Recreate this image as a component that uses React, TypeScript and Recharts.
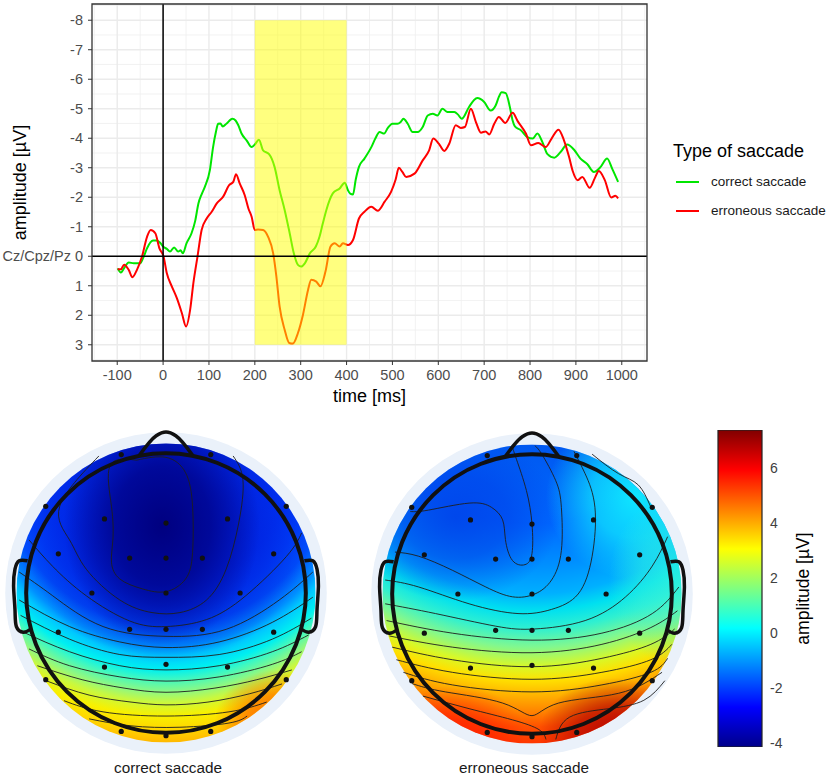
import React from 'react';
import {
  ComposedChart, Line, XAxis, YAxis, CartesianGrid, ReferenceArea, ReferenceLine,
  Legend, Scatter, Bar, Label,
} from 'recharts';

const FONT = '"Liberation Sans", Arial, Helvetica, sans-serif';

// ---------- ERP chart data ----------
const timeTicks = [-100, 0, 100, 200, 300, 400, 500, 600, 700, 800, 900, 1000];
const timeMinorTicks = [-150, -50, 50, 150, 250, 350, 450, 550, 650, 750, 850, 950, 1050];
const ampTicks = [-8, -7, -6, -5, -4, -3, -2, -1, 0, 1, 2, 3];
const ampMinorTicks = [-8.5, -7.5, -6.5, -5.5, -4.5, -3.5, -2.5, -1.5, -0.5, 0.5, 1.5, 2.5, 3.5];
const seriesNames = ['correct saccade', 'erroneous saccade'];
const seriesColors = ['#00E600', '#FF0000'];
const windowStart = 200;
const windowEnd = 400;

const correctSaccade: [number, number][] = [
  [-99, 0.41], [-92, 0.55], [-85, 0.40], [-75, 0.21], [-64, 0.24], [-50, 0.24], [-42, 0.0], [-35, -0.27],
  [-22, -0.53], [-14, -0.53], [-6, -0.45], [0, -0.33], [8, -0.25], [15, -0.16], [24, -0.30], [33, -0.16],
  [38, -0.2], [43, -0.1], [51, -0.44], [62, -0.78], [70, -1.2], [77, -1.79], [84, -2.1], [91, -2.35],
  [102, -2.92], [109, -3.70], [115, -4.2], [120, -4.49], [125, -4.5], [130, -4.40], [138, -4.49], [151, -4.66],
  [158, -4.6], [164, -4.44], [171, -4.16], [182, -3.93], [193, -3.70], [200, -3.79], [209, -3.95], [218, -3.59],
  [231, -3.46], [237, -3.3], [243, -3.03], [254, -2.24], [265, -1.57], [276, -0.78], [285, -0.10], [294, 0.29],
  [301, 0.35], [309, 0.24], [320, -0.1], [333, -0.33], [341, -0.66], [348, -1.1], [356, -1.57], [363, -1.9],
  [370, -2.13], [385, -2.30], [396, -2.49], [403, -2.24], [408, -2.12], [414, -2.09], [420, -2.6], [427, -3.03],
  [439, -3.31], [454, -3.70], [463, -4.0], [472, -4.21], [482, -4.16], [490, -4.35], [500, -4.49], [511, -4.49],
  [518, -4.55], [524, -4.66], [533, -4.5], [544, -4.21], [555, -4.21], [566, -4.38], [577, -4.77], [588, -4.83],
  [598, -4.77], [609, -5.0], [620, -4.89], [635, -4.89], [643, -4.8], [651, -4.66], [667, -5.06], [678, -5.3],
  [685, -5.36], [700, -5.23], [714, -4.94], [725, -5.11], [732, -5.4], [738, -5.56], [747, -5.53], [756, -5.06],
  [762, -4.6], [767, -4.40], [780, -4.27], [794, -4.04], [806, -3.99], [816, -4.16], [827, -3.87], [838, -3.46],
  [853, -3.34], [867, -3.54], [881, -3.79], [896, -3.61], [910, -3.31], [925, -3.12], [939, -2.86], [954, -3.03],
  [968, -3.31], [979, -2.97], [992, -2.52],
];

const erroneousSaccade: [number, number][] = [
  [-99, 0.44], [-92, 0.44], [-85, 0.29], [-75, 0.46], [-67, 0.71], [-57, 0.46], [-46, 0.01], [-35, -0.66],
  [-27, -0.89], [-17, -0.78], [-8, -0.27], [1, 0.01], [8, 0.57], [19, 1.02], [30, 1.42], [41, 1.93],
  [50, 2.38], [59, 1.81], [66, 0.91], [75, 0.01], [84, -0.89], [95, -1.28], [106, -1.51], [117, -1.79],
  [131, -2.02], [144, -2.41], [153, -2.52], [159, -2.78], [167, -2.47], [178, -2.07], [186, -1.62], [193, -1.34],
  [200, -0.89], [207, -0.91], [218, -0.89], [229, -0.66], [240, -0.10], [247, 0.69], [254, 1.70], [265, 2.49],
  [275, 2.94], [283, 2.96], [294, 2.60], [305, 1.98], [316, 1.14], [323, 0.80], [334, 0.86], [343, 1.02],
  [354, 0.52], [365, -0.33], [374, -0.44], [385, -0.33], [392, -0.44], [403, -0.38], [414, -0.55], [427, -1.28],
  [439, -1.51], [454, -1.68], [468, -1.54], [483, -1.85], [497, -2.18], [507, -2.6], [514, -3.0], [522, -2.85],
  [530, -2.69], [548, -2.80], [566, -3.25], [580, -3.59], [589, -3.99], [601, -3.82], [613, -3.57], [624, -3.82],
  [638, -4.44], [649, -4.35], [658, -4.38], [671, -5.0], [682, -4.55], [693, -4.19], [703, -4.23], [711, -4.13],
  [722, -4.49], [732, -4.72], [746, -4.52], [762, -4.86], [773, -4.58], [791, -4.16], [802, -3.76], [818, -3.84],
  [834, -3.70], [847, -3.99], [862, -4.29], [874, -3.93], [885, -3.37], [893, -2.89], [904, -2.58], [914, -2.69],
  [930, -2.32], [941, -2.64], [950, -2.89], [963, -2.58], [977, -1.99], [986, -2.05], [992, -1.96],
];

// ---------- topographic map data (head units, radius 1) ----------
const electrodes: [number, number][] = [
  [-0.32, 0.99], [0.32, 0.99],
  [-0.86, 0.62], [0.86, 0.62],
  [-0.44, 0.53], [0, 0.50], [0.44, 0.53],
  [-0.77, 0.28], [-0.26, 0.25], [0, 0.25], [0.26, 0.25], [0.77, 0.28],
  [-0.53, 0], [0, 0], [0.53, 0],
  [-0.77, -0.28], [-0.26, -0.26], [0, -0.26], [0.26, -0.26], [0.77, -0.28],
  [-0.44, -0.53], [0, -0.51], [0.44, -0.53],
  [-0.86, -0.62], [0.86, -0.62],
  [-0.32, -0.99], [0, -1.02], [0.32, -0.99],
];
const noseOutline: [number, number][] = [[-0.19, 0.985], [-0.07, 1.125], [0, 1.152], [0.07, 1.125], [0.19, 0.985]];
const leftEarOutline: [number, number][] = [
  [-0.99, 0.23], [-1.05, 0.23], [-1.08, 0.17], [-1.09, 0.05], [-1.08, -0.12], [-1.07, -0.24], [-1.02, -0.28], [-0.97, -0.26],
];
const rightEarOutline: [number, number][] = [
  [0.99, 0.23], [1.05, 0.23], [1.08, 0.17], [1.09, 0.05], [1.08, -0.12], [1.07, -0.24], [1.02, -0.28], [0.97, -0.26],
];

const correctContours: [number, number][][] = [
  [[-0.21, 0.95], [-0.40, 0.91], [-0.39, 0.62], [-0.38, 0.38], [-0.39, 0.22], [-0.33, 0.10], [-0.17, 0.03], [0, 0.01],
    [0.14, 0.10], [0.19, 0.29], [0.19, 0.62], [0.14, 0.86], [0, 0.97], [-0.21, 0.95]],
  [[-0.48, 0.98], [-0.76, 0.62], [-0.69, 0.38], [-0.57, 0.17], [-0.33, -0.05], [-0.10, -0.14], [0.10, -0.14],
    [0.29, -0.05], [0.43, 0.17], [0.52, 0.50], [0.55, 0.81], [0.48, 0.98]],
  [[-0.98, 0.38], [-0.81, 0.19], [-0.57, -0.02], [-0.26, -0.20], [0, -0.24], [0.29, -0.19], [0.57, -0.02], [0.86, 0.26], [0.97, 0.43]],
  [[-1.05, 0.15], [-0.81, -0.02], [-0.45, -0.24], [0, -0.31], [0.43, -0.26], [0.81, -0.05], [1.05, 0.15]],
  [[-1.05, -0.05], [-0.69, -0.24], [-0.33, -0.35], [0, -0.39], [0.38, -0.35], [0.76, -0.21], [1.05, -0.03]],
  [[-1.04, -0.16], [-0.69, -0.33], [-0.33, -0.44], [0, -0.46], [0.38, -0.44], [0.76, -0.33], [1.04, -0.18]],
  [[-1.02, -0.28], [-0.69, -0.42], [-0.33, -0.52], [0, -0.55], [0.38, -0.52], [0.76, -0.42], [1.02, -0.30]],
  [[-0.98, -0.40], [-0.69, -0.52], [-0.33, -0.60], [0, -0.63], [0.38, -0.60], [0.76, -0.51], [0.97, -0.42]],
  [[-0.92, -0.52], [-0.6, -0.62], [-0.3, -0.68], [0, -0.71], [0.35, -0.68], [0.65, -0.62], [0.9, -0.55]],
  [[-0.85, -0.63], [-0.55, -0.73], [-0.25, -0.78], [0, -0.80], [0.3, -0.78], [0.6, -0.72], [0.83, -0.65]],
  [[-0.73, -0.77], [-0.45, -0.85], [0, -0.88], [0.45, -0.85], [0.72, -0.78]],
  [[-0.55, -0.90], [-0.25, -0.95], [0.1, -0.96], [0.45, -0.93], [0.58, -0.88]],
];

const erroneousContours: [number, number][][] = [
  [[-0.87, 0.59], [-0.74, 0.60], [-0.45, 0.65], [-0.29, 0.62], [-0.21, 0.53], [-0.19, 0.39], [-0.14, 0.24],
    [-0.05, 0.21], [0, 0.29], [0, 0.5], [-0.04, 0.74], [-0.11, 0.96], [-0.14, 1.05]],
  [[-0.98, 0.30], [-0.81, 0.27], [-0.57, 0.17], [-0.33, 0.05], [-0.14, -0.02], [0.02, 0.0], [0.14, 0.10],
    [0.21, 0.31], [0.21, 0.62], [0.17, 0.81], [0.07, 1.0], [0.02, 1.06]],
  [[-1.05, 0.10], [-0.81, 0.05], [-0.45, -0.07], [-0.10, -0.14], [0.14, -0.11], [0.33, 0.0], [0.43, 0.27],
    [0.45, 0.62], [0.38, 0.86], [0.30, 1.02]],
  [[-1.05, -0.07], [-0.69, -0.14], [-0.26, -0.23], [0.02, -0.25], [0.38, -0.19], [0.67, -0.02], [0.86, 0.20], [0.97, 0.41]],
  [[0.43, 1.0], [0.62, 0.86], [0.76, 0.78], [0.85, 0.62]],
  [[-1.04, -0.19], [-0.57, -0.28], [0, -0.33], [0.5, -0.28], [0.86, -0.14], [1.05, 0.05]],
  [[-1.02, -0.30], [-0.57, -0.38], [0, -0.42], [0.5, -0.36], [0.85, -0.24], [1.04, -0.12]],
  [[-1.0, -0.38], [-0.57, -0.47], [0, -0.52], [0.5, -0.46], [0.85, -0.36], [1.02, -0.25]],
  [[-0.97, -0.47], [-0.57, -0.56], [0, -0.61], [0.5, -0.56], [0.85, -0.47], [1.0, -0.36]],
  [[-0.92, -0.56], [-0.57, -0.65], [0, -0.70], [0.5, -0.65], [0.85, -0.56], [0.97, -0.46]],
  [[-0.86, -0.64], [-0.62, -0.70], [-0.21, -0.78], [0, -0.87], [0.19, -0.78], [0.62, -0.71], [0.93, -0.56]],
  [[-0.78, -0.73], [-0.45, -0.82], [-0.14, -0.90], [0.05, -0.97], [0.1, -1.04]],
  [[0.17, -1.04], [0.27, -0.88], [0.55, -0.82], [0.8, -0.76], [0.95, -0.62]],
];

const mapLabels = ['correct saccade', 'erroneous saccade'];

// ---------- colour bar data ----------
const colorbarRange: [number, number] = [-4.15, 7.38];
const colorbarTicks = [-4, -2, 0, 2, 4, 6];

// ---------- helpers ----------
const toXY = (arr: [number, number][]) => arr.map(([x, y]) => ({ x, y }));
const toTV = (arr: [number, number][]) => arr.map(([t, v]) => ({ t, v }));

type Stop = [number, string];
interface Overlay { cx: number; cy: number; rx: number; ry: number; color: string; opacity: number }
interface FieldStyle { id: string; center: [number, number]; radius: number; stops: Stop[]; overlays: Overlay[] }

const DISC = 1.07;

const correctField: FieldStyle = {
  id: 'fieldA',
  center: [0, 0.95],
  radius: 2.1,
  stops: [
    [0, '#0028E8'], [0.9, '#0034F4'], [1.05, '#003CF8'], [1.19, '#004CFA'], [1.33, '#0090FF'], [1.40, '#00C8FF'],
    [1.50, '#00F0F0'], [1.57, '#40F8C0'], [1.66, '#90F880'], [1.73, '#C8F840'], [1.83, '#F8F000'], [1.92, '#FFD800'],
    [2.02, '#FFB800'], [2.1, '#FFA800'],
  ],
  overlays: [
    { cx: 0, cy: 0.4, rx: 1.0, ry: 0.9, color: '#0010C8', opacity: 0.75 },
    { cx: -0.03, cy: 0.48, rx: 0.7, ry: 0.85, color: '#000080', opacity: 1 },
    { cx: 0.8, cy: -0.9, rx: 0.45, ry: 0.35, color: '#FF5000', opacity: 0.8 },
  ],
};

const erroneousField: FieldStyle = {
  id: 'fieldB',
  center: [0, 1.8],
  radius: 2.9,
  stops: [
    [0, '#0058F0'], [0.73, '#0058F0'], [1.3, '#0068FF'], [1.6, '#0090FF'], [1.8, '#00B0FF'], [1.92, '#00E0F0'],
    [2.05, '#30F0D0'], [2.18, '#80F890'], [2.32, '#D8F828'], [2.42, '#FFE000'], [2.55, '#FFA800'], [2.65, '#FF8000'],
    [2.75, '#FF5000'], [2.9, '#FF3000'],
  ],
  overlays: [
    { cx: -0.55, cy: 0.55, rx: 0.75, ry: 0.6, color: '#0040E8', opacity: 0.85 },
    { cx: 0.75, cy: 0.7, rx: 0.65, ry: 0.6, color: '#10EEFF', opacity: 0.95 },
    { cx: 1.0, cy: 0.1, rx: 0.45, ry: 0.6, color: '#30F0E0', opacity: 0.7 },
    { cx: 0.6, cy: -1.0, rx: 0.55, ry: 0.4, color: '#B00000', opacity: 0.9 },
    { cx: -0.55, cy: -1.0, rx: 0.5, ry: 0.35, color: '#FF1000', opacity: 0.6 },
  ],
};

function makeDiscShape(style: FieldStyle) {
  return (p: any) => {
    const { x, y, width, height } = p;
    const ux = width / (2 * DISC);
    const uy = height / (2 * DISC);
    const px = (hx: number) => x + (hx + DISC) * ux;
    const py = (hy: number) => y + (DISC - hy) * uy;
    return (
      <g>
        <defs>
          <clipPath id={`${style.id}-clip`}>
            <ellipse cx={x + width / 2} cy={y + height / 2} rx={width / 2} ry={height / 2} />
          </clipPath>
          <radialGradient id={`${style.id}-base`} gradientUnits="userSpaceOnUse"
            cx={px(style.center[0])} cy={py(style.center[1])} r={style.radius * ux}
            fx={px(style.center[0])} fy={py(style.center[1])}>
            {style.stops.map(([d, c], i) => <stop key={i} offset={d / style.radius} stopColor={c} />)}
          </radialGradient>
          {style.overlays.map((o, i) => (
            <radialGradient id={`${style.id}-ov${i}`} key={i}>
              <stop offset={0} stopColor={o.color} stopOpacity={o.opacity} />
              <stop offset={0.5} stopColor={o.color} stopOpacity={o.opacity * 0.7} />
              <stop offset={1} stopColor={o.color} stopOpacity={0} />
            </radialGradient>
          ))}
        </defs>
        <g clipPath={`url(#${style.id}-clip)`}>
          <rect x={x} y={y} width={width} height={height} fill={`url(#${style.id}-base)`} />
          {style.overlays.map((o, i) => (
            <ellipse key={i} cx={px(o.cx)} cy={py(o.cy)} rx={o.rx * ux} ry={o.ry * uy} fill={`url(#${style.id}-ov${i})`} />
          ))}
        </g>
      </g>
    );
  };
}

const haloShape = (p: any) => (
  <ellipse cx={p.x + p.width / 2} cy={p.y + p.height / 2} rx={p.width / 2} ry={p.height / 2} fill="#EAF1FA" />
);
const headShape = (p: any) => (
  <ellipse cx={p.x + p.width / 2} cy={p.y + p.height / 2} rx={p.width / 2} ry={p.height / 2}
    fill="none" stroke="#111" strokeWidth={4} />
);
const electrodeShape = (p: any) => <circle cx={p.cx} cy={p.cy} r={2.6} fill="#111" />;

function TopoMap({ left, top, contours, field, label, labelX }: any) {
  return (
    <>
      <div style={{ position: 'absolute', left, top }}>
        <ComposedChart width={330} height={330} margin={{ top: 0, right: 0, bottom: 0, left: 0 }}>
          <XAxis type="number" dataKey="x" domain={[-1.18, 1.18]} hide allowDataOverflow />
          <YAxis type="number" dataKey="y" domain={[-1.18, 1.18]} hide allowDataOverflow />
          <ReferenceArea x1={-1.15} x2={1.15} y1={-1.15} y2={1.15} shape={haloShape} ifOverflow="visible" />
          <ReferenceArea x1={-DISC} x2={DISC} y1={-DISC} y2={DISC} shape={makeDiscShape(field)} ifOverflow="visible" />
          {contours.map((c: [number, number][], i: number) => (
            <Line key={i} data={toXY(c)} dataKey="y" type="natural" stroke="#1E1E1E" strokeWidth={0.9}
              dot={false} activeDot={false} isAnimationActive={false} />
          ))}
          <ReferenceArea x1={-1} x2={1} y1={-1} y2={1} shape={headShape} ifOverflow="visible" zIndex={700} />
          <Line data={toXY(noseOutline)} dataKey="y" type="monotone" stroke="#111" strokeWidth={3.5}
            strokeLinejoin="round" dot={false} activeDot={false} isAnimationActive={false} />
          <Line data={toXY(leftEarOutline)} dataKey="y" type="natural" stroke="#111" strokeWidth={3.5}
            dot={false} activeDot={false} isAnimationActive={false} />
          <Line data={toXY(rightEarOutline)} dataKey="y" type="natural" stroke="#111" strokeWidth={3.5}
            dot={false} activeDot={false} isAnimationActive={false} />
          <Scatter data={toXY(electrodes)} shape={electrodeShape} isAnimationActive={false} />
        </ComposedChart>
      </div>
      <div style={{
        position: 'absolute', left: labelX - 100, top: 759, width: 200, textAlign: 'center',
        fontFamily: FONT, fontSize: 15.3, lineHeight: '18px', color: '#1A1A1A',
      }}>{label}</div>
    </>
  );
}

function ErpLegend() {
  return (
    <div style={{ position: 'relative', width: 156, height: 90, fontFamily: FONT }}>
      <div style={{ position: 'absolute', left: 0, top: 0, height: 22, lineHeight: '22px', fontSize: 18, color: '#000', whiteSpace: 'nowrap' }}>
        Type of saccade
      </div>
      {seriesNames.map((n, i) => (
        <div key={n} style={{ position: 'absolute', left: 0, top: 32 + i * 29, height: 20, width: 156 }}>
          <svg width={30} height={20} style={{ position: 'absolute', left: 0, top: 0 }}>
            <line x1={3} x2={26} y1={10} y2={10} stroke={seriesColors[i]} strokeWidth={2} />
          </svg>
          <div style={{ position: 'absolute', left: 38, top: 0, lineHeight: '20px', fontSize: 13.5, color: '#1A1A1A', whiteSpace: 'nowrap' }}>{n}</div>
        </div>
      ))}
    </div>
  );
}

const colorbarData = [{ name: 'amplitude', range: colorbarRange }];
const colorbarShape = (p: any) => (
  <g>
    <defs>
      <linearGradient id="jetBar" x1="0" y1="0" x2="0" y2="1">
        <stop offset="0" stopColor="#800000" />
        <stop offset="0.125" stopColor="#FF0000" />
        <stop offset="0.375" stopColor="#FFFF00" />
        <stop offset="0.625" stopColor="#00FFFF" />
        <stop offset="0.875" stopColor="#0000FF" />
        <stop offset="1" stopColor="#00008A" />
      </linearGradient>
    </defs>
    <rect x={p.x} y={p.y} width={p.width} height={p.height} fill="url(#jetBar)" stroke="#222" strokeWidth={1.2} />
  </g>
);

export default function App() {
  const tickStyle = { fontSize: 14.5, fill: '#4D4D4D', fontFamily: FONT };
  return (
    <div style={{ position: 'absolute', left: 0, top: 0, width: 829, height: 777, background: '#fff', overflow: 'hidden' }}>
      <div style={{ position: 'absolute', left: 0, top: 0 }}>
        <ComposedChart width={829} height={410} margin={{ top: 4, right: 182, bottom: 0, left: 0 }}>
          <CartesianGrid stroke="#EFEFEF" strokeWidth={0.8} verticalValues={timeMinorTicks} horizontalValues={ampMinorTicks} />
          <CartesianGrid stroke="#EBEBEB" strokeWidth={1.4} verticalValues={timeTicks} horizontalValues={ampTicks} />
          <XAxis type="number" dataKey="t" domain={[-155, 1055]} ticks={timeTicks} interval={0} allowDataOverflow
            height={49} tickSize={4} tickMargin={5} axisLine={false} tickLine={{ stroke: '#333' }} tick={tickStyle}>
            <Label content={(props: any) => {
              const vb = props.viewBox;
              return <text x={vb.x + vb.width / 2} y={vb.y + 41} textAnchor="middle" fontSize={18} fontFamily={FONT} fill="#000">time [ms]</text>;
            }} />
          </XAxis>
          <YAxis type="number" dataKey="v" domain={[-8.55, 3.55]} reversed ticks={ampTicks} interval={0} allowDataOverflow
            width={92} tickSize={4} tickMargin={5} axisLine={false} tickLine={{ stroke: '#333' }} tick={tickStyle}
            tickFormatter={(v: number) => (v === 0 ? 'Cz/Cpz/Pz 0' : String(v))}>
            <Label content={(props: any) => {
              const vb = props.viewBox;
              const cx = vb.x + 20;
              const cy = vb.y + vb.height / 2;
              return <text x={cx} y={cy} dy="0.35em" transform={`rotate(-90, ${cx}, ${cy})`} textAnchor="middle" fontSize={18} fontFamily={FONT} fill="#000">amplitude [µV]</text>;
            }} />
          </YAxis>
          <Line data={toTV(correctSaccade)} dataKey="v" name={seriesNames[0]} type="monotone" stroke={seriesColors[0]}
            strokeWidth={2} dot={false} activeDot={false} isAnimationActive={false} />
          <Line data={toTV(erroneousSaccade)} dataKey="v" name={seriesNames[1]} type="monotone" stroke={seriesColors[1]}
            strokeWidth={2} dot={false} activeDot={false} isAnimationActive={false} />
          <ReferenceArea x1={windowStart} x2={windowEnd} y1={-8} y2={3} fill="#FFFF00" fillOpacity={0.5} stroke="none" zIndex={450} />
          <ReferenceLine x={0} stroke="#000" strokeWidth={1.5} zIndex={460} />
          <ReferenceLine y={0} stroke="#000" strokeWidth={1.5} zIndex={460} />
          <ReferenceArea x1={-155} x2={1055} y1={-8.55} y2={3.55} fill="none" stroke="#333" strokeWidth={1.3} ifOverflow="visible" zIndex={470} />
          <Legend layout="horizontal" verticalAlign="middle" align="center" content={() => <ErpLegend />}
            wrapperStyle={{ left: 673, top: 140, width: 156, height: 90 }} />
        </ComposedChart>
      </div>

      <TopoMap left={1} top={428} contours={correctContours} field={correctField} label={mapLabels[0]} labelX={168} />
      <TopoMap left={366.5} top={429} contours={erroneousContours} field={erroneousField} label={mapLabels[1]} labelX={524} />

      <div style={{ position: 'absolute', left: 700, top: 420 }}>
        <ComposedChart width={129} height={340} data={colorbarData} margin={{ top: 10, right: 0, bottom: 13, left: 18 }} barCategoryGap={0}>
          <XAxis type="category" dataKey="name" hide />
          <YAxis type="number" orientation="right" domain={colorbarRange} ticks={colorbarTicks} interval={0} allowDataOverflow
            width={67} tickSize={0} tickMargin={8} tickLine={false} axisLine={false}
            tick={{ fontSize: 14, fill: '#404040', fontFamily: FONT }}>
            <Label content={(props: any) => {
              const vb = props.viewBox;
              const cx = vb.x + 41;
              const cy = vb.y + vb.height / 2;
              return <text x={cx} y={cy} dy="0.35em" transform={`rotate(-90, ${cx}, ${cy})`} textAnchor="middle" fontSize={17.5} fontFamily={FONT} fill="#000">amplitude [µV]</text>;
            }} />
          </YAxis>
          <Bar dataKey="range" shape={colorbarShape} isAnimationActive={false} />
        </ComposedChart>
      </div>
    </div>
  );
}
